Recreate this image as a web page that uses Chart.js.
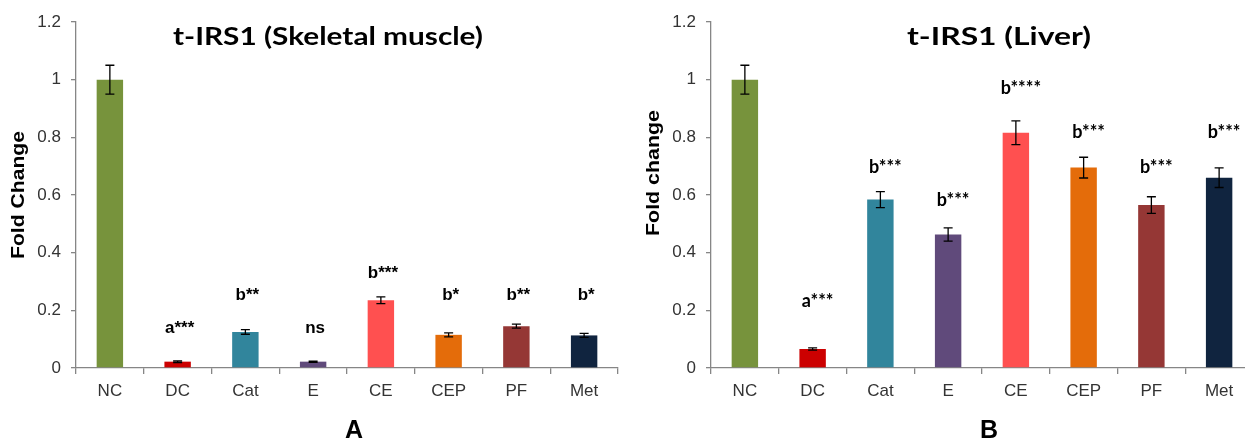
<!DOCTYPE html>
<html>
<head>
<meta charset="utf-8">
<script src="https://cdn.jsdelivr.net/npm/chart.js@4.4.1/dist/chart.umd.min.js"></script>
<style>
  html, body { margin: 0; padding: 0; background: #fff; overflow: hidden; width: 1245px; height: 440px; }
  #muscle { position: absolute; left: 0; top: 0; }
  #liver { position: absolute; left: 620px; top: 0; }
</style>
</head>
<body>
<canvas id="muscle" width="620" height="440"></canvas>
<canvas id="liver" width="640" height="440"></canvas>
<script>
// Treatment groups
const categories = ['NC', 'DC', 'Cat', 'E', 'CE', 'CEP', 'PF', 'Met'];

// t-IRS1 fold change, skeletal muscle (mean and SE)
const muscleFold = [1.0, 0.022, 0.125, 0.022, 0.235, 0.115, 0.145, 0.113];
const muscleErr  = [0.05, 0.003, 0.008, 0.002, 0.012, 0.007, 0.007, 0.007];
const muscleSig  = ['', 'a***', 'b**', 'ns', 'b***', 'b*', 'b**', 'b*'];

// t-IRS1 fold change, liver (mean and SE)
const liverFold = [1.0, 0.066, 0.584, 0.463, 0.816, 0.695, 0.565, 0.66];
const liverErr  = [0.05, 0.004, 0.028, 0.023, 0.041, 0.036, 0.029, 0.034];
const liverSig  = ['', 'a***', 'b***', 'b***', 'b****', 'b***', 'b***', 'b***'];

// Value axis ticks
const yTicks = [0, 0.2, 0.4, 0.6, 0.8, 1, 1.2];

const palette = ['#77933C', '#CC0000', '#31859C', '#604A7B', '#FF5050', '#E46C0A', '#953735', '#10243F'];
const axisGrey = '#868686';
const tickInk = '#333333';

// Error bars drawn from each dataset's `errors` list
const errorBars = {
  id: 'errorBars',
  afterDatasetsDraw(chart) {
    const ctx = chart.ctx;
    const ys = chart.scales.y;
    chart.data.datasets.forEach((ds, di) => {
      const meta = chart.getDatasetMeta(di);
      meta.data.forEach((bar, i) => {
        const v = ds.data[i], e = ds.errors[i];
        const top = ys.getPixelForValue(v + e);
        const bot = ys.getPixelForValue(v - e);
        ctx.save();
        ctx.strokeStyle = '#000';
        ctx.lineWidth = 1.3;
        ctx.beginPath();
        ctx.moveTo(bar.x, top); ctx.lineTo(bar.x, bot);
        ctx.moveTo(bar.x - 4.5, top); ctx.lineTo(bar.x + 4.5, top);
        ctx.moveTo(bar.x - 4.5, bot); ctx.lineTo(bar.x + 4.5, bot);
        ctx.stroke();
        ctx.restore();
      });
    });
  }
};

// Significance letters above the bars
const sigMarks = {
  id: 'sigMarks',
  afterDatasetsDraw(chart, args, opts) {
    const ctx = chart.ctx;
    const ys = chart.scales.y;
    const meta = chart.getDatasetMeta(0);
    ctx.save();
    ctx.fillStyle = '#000';
    ctx.font = opts.font;
    ctx.textAlign = 'center';
    ctx.textBaseline = 'alphabetic';
    opts.labels.forEach((txt, i) => {
      if (!txt) return;
      ctx.fillText(txt, meta.data[i].x + (opts.dx || 0), ys.getPixelForValue(opts.at[i]));
    });
    ctx.restore();
  }
};

// Text drawn centred at (x, y), widened to a set run length
function fittedText(ctx, item, angle) {
  ctx.save();
  ctx.font = item.font;
  ctx.translate(item.x, item.y);
  if (angle) ctx.rotate(angle);
  const w = ctx.measureText(item.text).width;
  ctx.scale(item.width ? item.width / w : 1, 1);
  ctx.fillText(item.text, 0, 0);
  ctx.restore();
}

// Panel title, value-axis title and panel letter
const panelText = {
  id: 'panelText',
  afterDraw(chart, args, opts) {
    const ctx = chart.ctx;
    ctx.save();
    ctx.fillStyle = '#000';
    ctx.textAlign = 'center';
    ctx.textBaseline = 'middle';
    fittedText(ctx, opts.title, 0);
    fittedText(ctx, opts.yTitle, -Math.PI / 2);
    ctx.textBaseline = 'alphabetic';
    fittedText(ctx, opts.letter, 0);
    ctx.restore();
  }
};

const tickFont = { family: 'Liberation Sans, Arial, sans-serif', size: 17 };

function makeChart(canvasId, values, errors, sig, cfg) {
  return new Chart(document.getElementById(canvasId), {
    type: 'bar',
    data: {
      labels: categories,
      datasets: [{
        data: values,
        errors: errors,
        backgroundColor: palette,
        borderWidth: 0,
        barPercentage: 0.39,
        categoryPercentage: 1.0
      }]
    },
    options: {
      responsive: false,
      animation: false,
      layout: { padding: { left: 0, right: cfg.padRight, top: 22, bottom: 32 } },
      plugins: {
        legend: { display: false },
        tooltip: { enabled: false },
        sigMarks: { labels: sig, at: cfg.sigAt, font: cfg.sigFont, dx: cfg.sigDx },
        panelText: cfg.text
      },
      scales: {
        x: {
          afterFit: s => { s.height = 40; },
          grid: { display: true, drawOnChartArea: false, offset: true, tickLength: 6, color: axisGrey, lineWidth: 1.3 },
          border: { color: axisGrey, width: 1.3 },
          ticks: { color: tickInk, padding: 7, font: tickFont }
        },
        y: {
          min: 0,
          max: 1.2,
          afterFit: s => { s.width = cfg.yWidth; },
          afterBuildTicks: s => { s.ticks = yTicks.map(v => ({ value: v })); },
          grid: { display: true, drawOnChartArea: false, tickLength: 5, color: axisGrey, lineWidth: 1.3 },
          border: { color: axisGrey, width: 1.3 },
          ticks: {
            color: tickInk,
            padding: 10,
            font: tickFont,
            callback: v => String(Number(v.toFixed(1)))
          }
        }
      }
    },
    plugins: [errorBars, sigMarks, panelText]
  });
}

makeChart('muscle', muscleFold, muscleErr, muscleSig, {
  padRight: 2,
  yWidth: 76,
  sigAt: [0, 0.121, 0.236, 0.121, 0.312, 0.236, 0.236, 0.236],
  sigFont: 'bold 17px "Liberation Sans", Arial, sans-serif',
  sigDx: 2,
  text: {
    title: { text: 't-IRS1 (Skeletal muscle)', x: 328, y: 37, width: 310, font: 'bold 24px Lato, "Open Sans", sans-serif' },
    yTitle: { text: 'Fold Change', x: 19, y: 195, width: 128, font: 'bold 18px "Liberation Sans", Arial, sans-serif' },
    letter: { text: 'A', x: 354, y: 438, font: 'bold 25px "Liberation Sans", Arial, sans-serif' }
  }
});

makeChart('liver', liverFold, liverErr, liverSig, {
  padRight: 7,
  yWidth: 91,
  sigAt: [0, 0.21, 0.676, 0.561, 0.952, 0.796, 0.676, 0.796],
  sigFont: 'bold 18px Lato, "Open Sans", sans-serif',
  sigDx: 5,
  text: {
    title: { text: 't-IRS1 (Liver)', x: 379, y: 37, width: 184, font: 'bold 24px Lato, "Open Sans", sans-serif' },
    yTitle: { text: 'Fold change', x: 34, y: 173, width: 126, font: 'bold 18px "Liberation Sans", Arial, sans-serif' },
    letter: { text: 'B', x: 369, y: 438, font: 'bold 25px "Liberation Sans", Arial, sans-serif' }
  }
});
</script>
</body>
</html>
